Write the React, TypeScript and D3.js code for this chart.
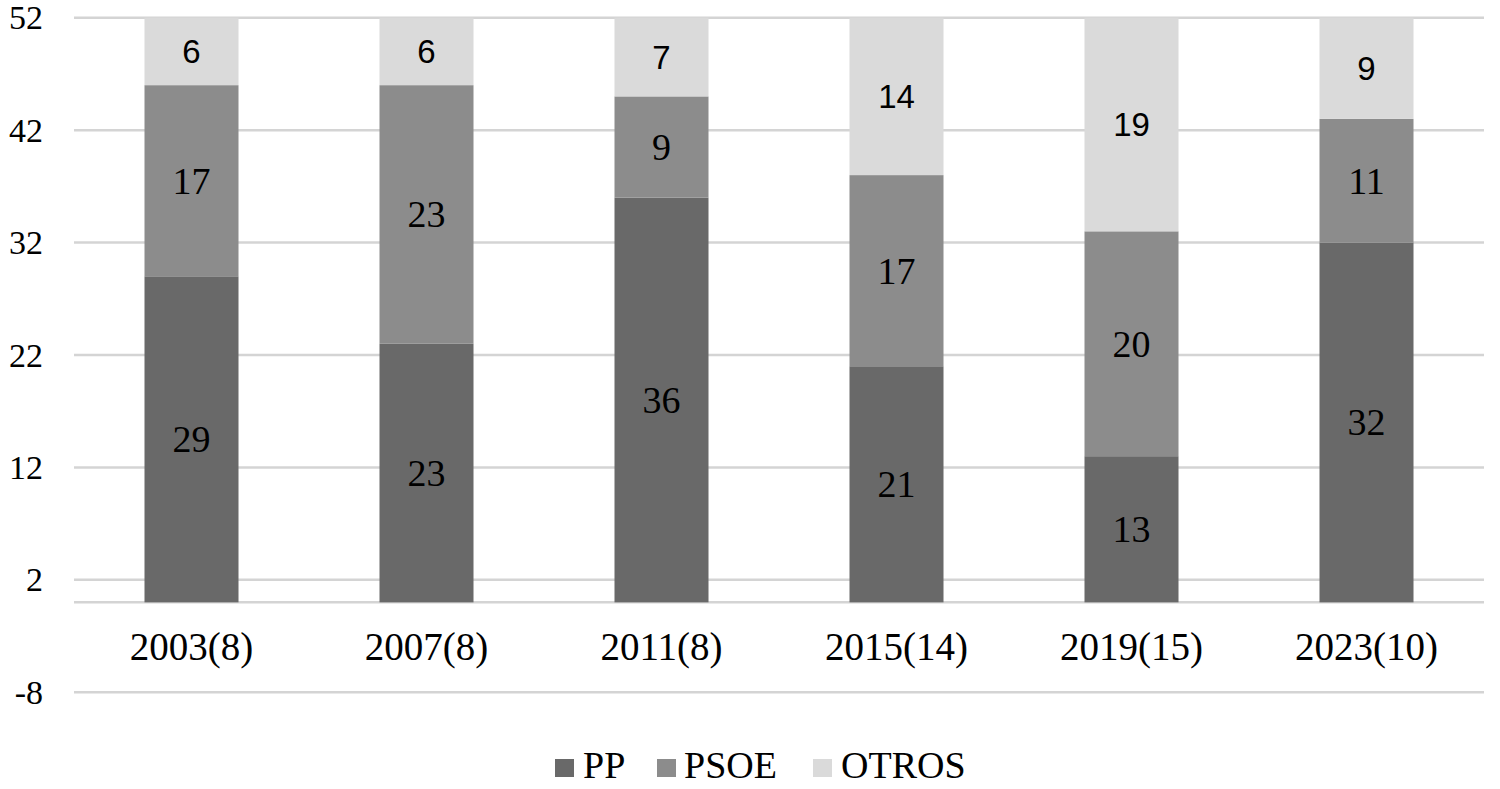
import React from "react";
import * as d3 from "d3";

const categories = ["2003(8)", "2007(8)", "2011(8)", "2015(14)", "2019(15)", "2023(10)"];
const ppValues = [29, 23, 36, 21, 13, 32];
const psoeValues = [17, 23, 9, 17, 20, 11];
const otrosValues = [6, 6, 7, 14, 19, 9];
const seriesNames = ["PP", "PSOE", "OTROS"];
const seriesColors = ["#696969", "#8c8c8c", "#dadada"];
const yTicks = [-8, 2, 12, 22, 32, 42, 52];

const W = 1500;
const H = 789;
const serif = "'Liberation Serif', 'Times New Roman', serif";
const sans = "'Liberation Sans', Arial, sans-serif";

export default function App() {
  const x = d3.scaleBand<string>().domain(categories).range([74, 1484]).paddingInner(0.6).paddingOuter(0.3);
  const y = d3.scaleLinear().domain([-8, 52]).range([692.3, 17.7]);

  const rows = categories.map((c, i) => ({ cat: c, PP: ppValues[i], PSOE: psoeValues[i], OTROS: otrosValues[i] }));
  const stacked = d3.stack<any>().keys(seriesNames)(rows);

  const legendItems = [
    { name: "PP", sx: 555, tx: 583 },
    { name: "PSOE", sx: 657, tx: 684 },
    { name: "OTROS", sx: 813, tx: 841 },
  ];

  return (
    <div style={{ position: "absolute", left: 0, top: 0 }}>
      <svg width={W} height={H} style={{ display: "block", background: "#fff" }}>
        {yTicks.map((t) => (
          <g key={t}>
            <line x1={74} x2={1484} y1={y(t)} y2={y(t)} stroke="#d4d4d4" strokeWidth={2.5} />
            <text x={43} y={y(t)} textAnchor="end" dominantBaseline="central" fontFamily={serif} fontSize={34} fill="#000">
              {t}
            </text>
          </g>
        ))}
        <line x1={74} x2={1484} y1={y(0)} y2={y(0)} stroke="#d4d4d4" strokeWidth={2.5} />
        {stacked.map((s, si) => (
          <g key={s.key}>
            {s.map((d, i) => (
              <rect
                key={i}
                x={x(categories[i])}
                width={x.bandwidth()}
                y={y(d[1])}
                height={y(d[0]) - y(d[1])}
                fill={seriesColors[si]}
              />
            ))}
          </g>
        ))}
        {stacked.map((s, si) => (
          <g key={"l" + s.key}>
            {s.map((d, i) => (
              <text
                key={i}
                x={(x(categories[i]) as number) + x.bandwidth() / 2}
                y={y((d[0] + d[1]) / 2)}
                textAnchor="middle"
                dominantBaseline="central"
                fontFamily={si === 2 ? sans : serif}
                fontSize={si === 2 ? 33 : 38}
                fill="#000"
              >
                {d[1] - d[0]}
              </text>
            ))}
          </g>
        ))}
        {categories.map((c) => (
          <text
            key={c}
            x={(x(c) as number) + x.bandwidth() / 2}
            y={660}
            textAnchor="middle"
            fontFamily={serif}
            fontSize={39}
            fill="#000"
          >
            {c}
          </text>
        ))}
        {legendItems.map((l, i) => (
          <g key={l.name}>
            <rect x={l.sx} y={759} width={19} height={18} fill={seriesColors[i]} />
            <text x={l.tx} y={778} fontFamily={serif} fontSize={38} fill="#000">
              {l.name}
            </text>
          </g>
        ))}
      </svg>
    </div>
  );
}
